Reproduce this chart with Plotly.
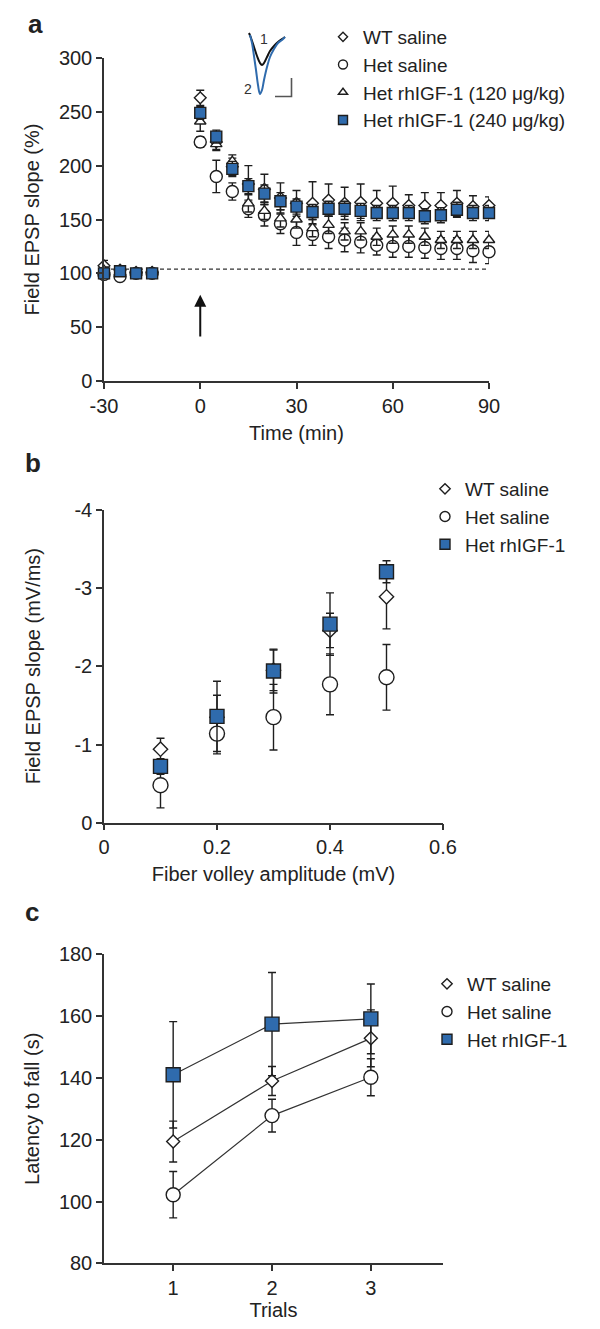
import plotly.graph_objects as go

PAGE_OFFSET = 8          # default body margin of the html page
W, H = 600 - PAGE_OFFSET, 1329 - PAGE_OFFSET
FONT = "Liberation Sans, Arial, sans-serif"
BLUE = "#2f6bad"
INK = "#1e1e1e"
AX = "#333333"

# ---------------- Panel a data ----------------
TIME = [-30, -25, -20, -15, 0, 5, 10, 15, 20, 25, 30, 35, 40, 45, 50, 55, 60, 65, 70, 75, 80, 85, 90]
A_WT = [107, 103, 101, 101, 263, 222, 199, 183, 178, 170, 165, 165, 168, 165, 166, 165, 165, 163, 163, 163, 165, 162, 163]
A_WT_ERR = [5, 3, 3, 3, 7, 8, 8, 17, 14, 14, 12, 20, 15, 15, 17, 12, 16, 10, 12, 12, 12, 10, 8]
A_HET = [99, 97, 100, 100, 222, 190, 176, 160, 154, 146, 138, 136, 134, 131, 129, 126, 125, 125, 124, 123, 123, 121, 120]
A_HET_ERR = [3, 3, 2, 2, 5, 15, 8, 8, 10, 9, 12, 10, 11, 11, 10, 9, 10, 10, 10, 10, 10, 11, 11]
A_T120 = [103, 101, 100, 101, 241, 220, 204, 165, 158, 151, 150, 142, 145, 139, 139, 134, 136, 136, 134, 131, 131, 131, 131]
A_T120_ERR = [3, 3, 2, 2, 9, 5, 6, 8, 8, 8, 8, 8, 8, 8, 8, 8, 8, 8, 8, 8, 8, 8, 8]
A_T240 = [100, 102, 100, 100, 249, 227, 197, 181, 174, 167, 162, 157, 160, 160, 158, 156, 156, 156, 153, 154, 159, 156, 156]
A_T240_ERR = [3, 3, 2, 2, 6, 6, 7, 7, 8, 8, 7, 7, 7, 7, 7, 7, 7, 7, 7, 7, 7, 7, 7]
A_XTICKS = [-30, 0, 30, 60, 90]
A_XLABELS = ["-30", "0", "30", "60", "90"]
A_YTICKS = [0, 50, 100, 150, 200, 250, 300]
BASELINE_LEVEL = 104
ARROW_TIME, ARROW_TIP, ARROW_TAIL = 0, 80, 40

# inset EPSP traces (arbitrary units: time, amplitude)
INSET_T1 = [249, 251, 254, 257, 260, 262, 264, 267, 270, 274, 278, 282, 285]
INSET_V1 = [33, 38, 47, 56, 63, 65, 63, 57, 51, 46, 42, 39, 37]
INSET_T2 = [250, 252, 254, 256, 258, 260, 262, 264, 267, 270, 274, 278, 282, 285]
INSET_V2 = [35, 43, 56, 70, 85, 94, 90, 80, 67, 57, 49, 43, 40, 37]
SCALE_X = [275, 291.5, 291.5]
SCALE_Y = [96.5, 96.5, 78]

# ---------------- Panel b data ----------------
FV = [0.1, 0.2, 0.3, 0.4, 0.5]
B_WT = [-0.94, -1.35, -1.95, -2.46, -2.89]
B_WT_ERR = [0.14, 0.28, 0.26, 0.22, 0.41]
B_HET = [-0.48, -1.14, -1.35, -1.77, -1.86]
B_HET_ERR = [0.29, 0.26, 0.42, 0.39, 0.42]
B_IGF = [-0.72, -1.36, -1.94, -2.54, -3.21]
B_IGF_ERR = [0.10, 0.45, 0.28, 0.40, 0.14]
B_XTICKS = [0, 0.2, 0.4, 0.6]
B_XLABELS = ["0", "0.2", "0.4", "0.6"]
B_YTICKS = [0, -1, -2, -3, -4]
B_YLABELS = ["0", "-1", "-2", "-3", "-4"]

# ---------------- Panel c data ----------------
TRIALS = [1, 2, 3]
C_WT = [119.4, 139.0, 152.8]
C_WT_ERR = [6.6, 4.7, 9.2]
C_HET = [102.2, 127.8, 140.2]
C_HET_ERR = [7.5, 5.3, 6.0]
C_IGF = [141.0, 157.4, 159.1]
C_IGF_ERR = [17.2, 16.7, 11.3]
C_YTICKS = [80, 100, 120, 140, 160, 180]

NAMES_A = ["WT saline", "Het saline", "Het rhIGF-1 (120 \u03bcg/kg)", "Het rhIGF-1 (240 \u03bcg/kg)"]
NAMES_BC = ["WT saline", "Het saline", "Het rhIGF-1"]


def px(x):
    return (x - PAGE_OFFSET) / W


def py(y):
    return 1 - (y - PAGE_OFFSET) / H


def mk(symbol, size, fill):
    return dict(symbol=symbol, size=size, color=fill, line=dict(color=INK, width=1.4))


def err(vals):
    return dict(type="data", array=vals, visible=True, color=INK, thickness=1.4, width=4)


fig = go.Figure()

# ---- Panel a ----
series_a = [
    (A_WT, A_WT_ERR, "diamond", 9, 7, "white"),
    (A_HET, A_HET_ERR, "circle", 12, 9, "white"),
    (A_T120, A_T120_ERR, "triangle-up", 10, 8, "white"),
    (A_T240, A_T240_ERR, "square", 11, 9, BLUE),
]
for (vals, e, sym, sz, lsz, fill), name in zip(series_a, NAMES_A):
    fig.add_trace(go.Scatter(x=TIME, y=vals, error_y=err(e), mode="markers",
                             marker=mk(sym, sz, fill), xaxis="x", yaxis="y",
                             showlegend=False, cliponaxis=False, name=name))
    fig.add_trace(go.Scatter(x=[None], y=[None], mode="markers", name=name,
                             marker=mk(sym, lsz, fill), legend="legend"))

# inset
fig.add_trace(go.Scatter(x=INSET_T1, y=INSET_V1, mode="lines", line=dict(color="#111111", width=2, shape="spline"),
                         xaxis="x4", yaxis="y4", showlegend=False))
fig.add_trace(go.Scatter(x=INSET_T2, y=INSET_V2, mode="lines", line=dict(color=BLUE, width=2, shape="spline"),
                         xaxis="x4", yaxis="y4", showlegend=False))
fig.add_trace(go.Scatter(x=SCALE_X, y=SCALE_Y, mode="lines", line=dict(color="#555555", width=1.6),
                         xaxis="x4", yaxis="y4", showlegend=False))

# ---- Panel b ----
series_b = [
    (B_WT, B_WT_ERR, "diamond", 11, 8, "white"),
    (B_HET, B_HET_ERR, "circle", 15, 10, "white"),
    (B_IGF, B_IGF_ERR, "square", 14, 10, BLUE),
]
for (vals, e, sym, sz, lsz, fill), name in zip(series_b, NAMES_BC):
    fig.add_trace(go.Scatter(x=FV, y=vals, error_y=err(e), mode="markers",
                             marker=mk(sym, sz, fill), xaxis="x2", yaxis="y2",
                             showlegend=False, cliponaxis=False, name=name))
    fig.add_trace(go.Scatter(x=[None], y=[None], mode="markers", name=name,
                             marker=mk(sym, lsz, fill), legend="legend2"))

# ---- Panel c ----
series_c = [
    (C_WT, C_WT_ERR, "diamond", 10, 8, "white"),
    (C_HET, C_HET_ERR, "circle", 14, 10, "white"),
    (C_IGF, C_IGF_ERR, "square", 14, 10, BLUE),
]
for vals, e, sym, sz, lsz, fill in series_c:
    fig.add_trace(go.Scatter(x=TRIALS, y=vals, mode="lines", line=dict(color=AX, width=1.2),
                             xaxis="x3", yaxis="y3", showlegend=False))
for (vals, e, sym, sz, lsz, fill), name in zip(series_c, NAMES_BC):
    fig.add_trace(go.Scatter(x=TRIALS, y=vals, error_y=err(e), mode="markers",
                             marker=mk(sym, sz, fill), xaxis="x3", yaxis="y3",
                             showlegend=False, cliponaxis=False, name=name))
    fig.add_trace(go.Scatter(x=[None], y=[None], mode="markers", name=name,
                             marker=mk(sym, lsz, fill), legend="legend3"))

axis_common = dict(showline=True, linecolor=AX, linewidth=1.5, ticks="outside", ticklen=6,
                   tickwidth=1.5, tickcolor=AX, showgrid=False, zeroline=False, automargin=False,
                   tickfont=dict(family=FONT, size=20, color="#222"))
title_font = dict(family=FONT, size=20, color="#222")

legend_common = dict(font=dict(family=FONT, size=19, color="#222"), bgcolor="rgba(0,0,0,0)",
                     xanchor="left", yanchor="top", itemsizing="trace", borderwidth=0,
                     tracegroupgap=0)

label_font = dict(family=FONT, size=26, color="#222")

fig.update_layout(
    width=W, height=H, margin=dict(l=0, r=0, t=0, b=0, autoexpand=False),
    paper_bgcolor="white", plot_bgcolor="white",
    font=dict(family=FONT, size=20, color="#222"),
    xaxis=dict(domain=[px(104), px(489)], range=[-30, 90], tickvals=A_XTICKS, ticktext=A_XLABELS, anchor="y",
               title=dict(text="Time (min)", font=title_font, standoff=10), **axis_common),
    yaxis=dict(domain=[py(381), py(58)], range=[0, 300], tickvals=A_YTICKS, anchor="x",
               title=dict(text="Field EPSP slope (%)", font=title_font, standoff=14), **axis_common),
    xaxis2=dict(domain=[px(104), px(443)], range=[0, 0.6], tickvals=B_XTICKS, ticktext=B_XLABELS, anchor="y2",
                title=dict(text="Fiber volley amplitude (mV)", font=title_font, standoff=10), **axis_common),
    yaxis2=dict(domain=[py(822.7), py(510)], range=[0, -4], tickvals=B_YTICKS, ticktext=B_YLABELS, anchor="x2",
                **axis_common),
    xaxis3=dict(domain=[px(104), px(443)], range=[0.3, 3.73], tickvals=TRIALS, anchor="y3",
                title=dict(text="Trials", font=title_font, standoff=5), **axis_common),
    yaxis3=dict(domain=[py(1263.3), py(954.3)], range=[80, 180], tickvals=C_YTICKS, anchor="x3",
                title=dict(text="Latency to fall (s)", font=title_font, standoff=14), **axis_common),
    xaxis4=dict(domain=[px(245), px(296)], range=[245, 296], visible=False, anchor="y4"),
    yaxis4=dict(domain=[py(100), py(30)], range=[100, 30], visible=False, anchor="x4"),
    legend=dict(x=px(323), y=py(18), **legend_common),
    legend2=dict(x=px(425), y=py(470), **legend_common),
    legend3=dict(x=px(427), y=py(965), **legend_common),
    shapes=[dict(type="line", xref="x", yref="y", x0=TIME[0], x1=TIME[-1], y0=BASELINE_LEVEL, y1=BASELINE_LEVEL,
                 line=dict(color=AX, width=1.2, dash="4px,3px"), layer="below")],
    annotations=[
        dict(x=ARROW_TIME, y=ARROW_TIP, ax=ARROW_TIME, ay=ARROW_TAIL, xref="x", yref="y", axref="x", ayref="y",
             text="", showarrow=True, arrowhead=2, arrowsize=1.2, arrowwidth=2, arrowcolor="#111"),
        dict(x=px(35), y=1, xref="paper", yref="paper", text="<b>a</b>", showarrow=False,
             font=label_font, xanchor="center", yanchor="top", borderpad=0),
        dict(x=px(33), y=py(463), xref="paper", yref="paper", text="<b>b</b>", showarrow=False,
             font=label_font, xanchor="center", yanchor="middle"),
        dict(x=px(32), y=py(912), xref="paper", yref="paper", text="<b>c</b>", showarrow=False,
             font=label_font, xanchor="center", yanchor="middle"),
        dict(x=px(33), y=(py(822.7) + py(510)) / 2, xref="paper", yref="paper",
             text="Field EPSP slope (mV/ms)", textangle=-90, showarrow=False,
             font=title_font, xanchor="center", yanchor="middle"),
        dict(x=263.5, y=38.5, xref="x4", yref="y4", text="1", showarrow=False,
             font=dict(family=FONT, size=14, color="#333")),
        dict(x=247.5, y=88.5, xref="x4", yref="y4", text="2", showarrow=False,
             font=dict(family=FONT, size=14, color="#333")),
    ],
)

fig.write_html("out.html")
